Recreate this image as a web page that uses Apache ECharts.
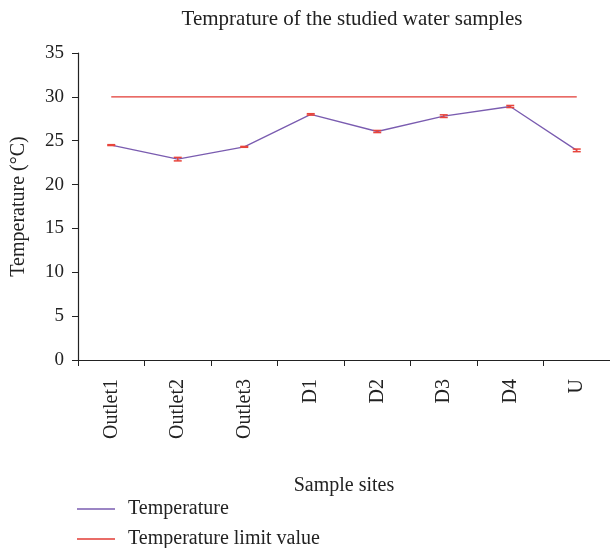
<!DOCTYPE html>
<html>
<head>
<meta charset="utf-8">
<script src="https://cdn.jsdelivr.net/npm/echarts@6/dist/echarts.min.js"></script>
<style>
  html, body { margin: 0; padding: 0; background: #fff; }
  #chart { width: 610px; height: 548px; }
</style>
</head>
<body>
<div id="chart"></div>
<script>
const sites = ["Outlet1", "Outlet2", "Outlet3", "D1", "D2", "D3", "D4", "U"];
const temperature = [24.5, 22.9, 24.3, 28.0, 26.05, 27.8, 28.9, 23.9];
const tempError = [0.05, 0.2, 0.05, 0.08, 0.12, 0.15, 0.12, 0.15];
const limitValue = [30, 30, 30, 30, 30, 30, 30, 30];

const serif = "Liberation Serif";
const chart = echarts.init(document.getElementById("chart"));

// one legend per row so the two entries stack like the original
function legendRow(name, top) {
  return {
    left: 72,
    top: top,
    itemWidth: 38,
    itemHeight: 1.5,
    icon: "rect",
    textStyle: { fontFamily: serif, fontSize: 20, color: "#222", padding: [0, 0, 0, 8] },
    data: [name]
  };
}

const option = {
  animation: false,
  title: {
    text: "Temprature of the studied water samples",
    left: 347,
    textAlign: "center",
    top: 4,
    textStyle: { fontFamily: serif, fontWeight: "normal", fontSize: 21, color: "#222" }
  },
  legend: [legendRow("Temperature", 494), legendRow("Temperature limit value", 524)],
  grid: { left: 78, right: 0, top: 53, bottom: 188, containLabel: false, outerBoundsMode: "none" },
  xAxis: {
    type: "category",
    data: sites,
    boundaryGap: true,
    name: "Sample sites",
    nameLocation: "middle",
    nameGap: 116,
    nameTextStyle: { fontFamily: serif, fontSize: 20, color: "#222" },
    axisLine: { lineStyle: { color: "#222", width: 1.2 } },
    axisTick: { show: true, length: 6, lineStyle: { color: "#222" } },
    axisLabel: { rotate: 90, fontFamily: serif, fontSize: 20, color: "#222", margin: 19 },
    splitLine: { show: false }
  },
  yAxis: {
    type: "value",
    min: 0,
    max: 35,
    interval: 5,
    name: "Temperature (°C)",
    nameLocation: "middle",
    nameGap: 49,
    nameTextStyle: { fontFamily: serif, fontSize: 20, color: "#222" },
    axisLine: { show: true, lineStyle: { color: "#222", width: 1.2 } },
    axisTick: { show: true, length: 6, lineStyle: { color: "#222" } },
    axisLabel: { fontFamily: serif, fontSize: 19, color: "#222", margin: 14 },
    splitLine: { show: false }
  },
  series: [
    {
      name: "Temperature",
      type: "line",
      data: temperature,
      symbol: "none",
      lineStyle: { color: "#7a5cb0", width: 1.3 },
      itemStyle: { color: "#7a5cb0" },
      z: 3
    },
    {
      name: "Temperature limit value",
      type: "line",
      data: limitValue,
      symbol: "none",
      lineStyle: { color: "#e23b34", width: 1.3 },
      itemStyle: { color: "#e23b34" },
      z: 2
    },
    {
      name: "error",
      type: "custom",
      data: temperature.map((v, i) => [i, v - tempError[i], v + tempError[i]]),
      z: 4,
      renderItem: function (params, api) {
        const lo = api.coord([api.value(0), api.value(1)]);
        const hi = api.coord([api.value(0), api.value(2)]);
        const hw = 4;
        const style = { stroke: "#e8453c", lineWidth: 1.5 };
        return {
          type: "group",
          children: [
            { type: "line", shape: { x1: lo[0], y1: lo[1], x2: hi[0], y2: hi[1] }, style: style },
            { type: "line", shape: { x1: lo[0] - hw, y1: lo[1], x2: lo[0] + hw, y2: lo[1] }, style: style },
            { type: "line", shape: { x1: hi[0] - hw, y1: hi[1], x2: hi[0] + hw, y2: hi[1] }, style: style }
          ]
        };
      }
    }
  ]
};

chart.setOption(option);
window.addEventListener("resize", function () {
  chart.resize();
});
</script>
</body>
</html>
